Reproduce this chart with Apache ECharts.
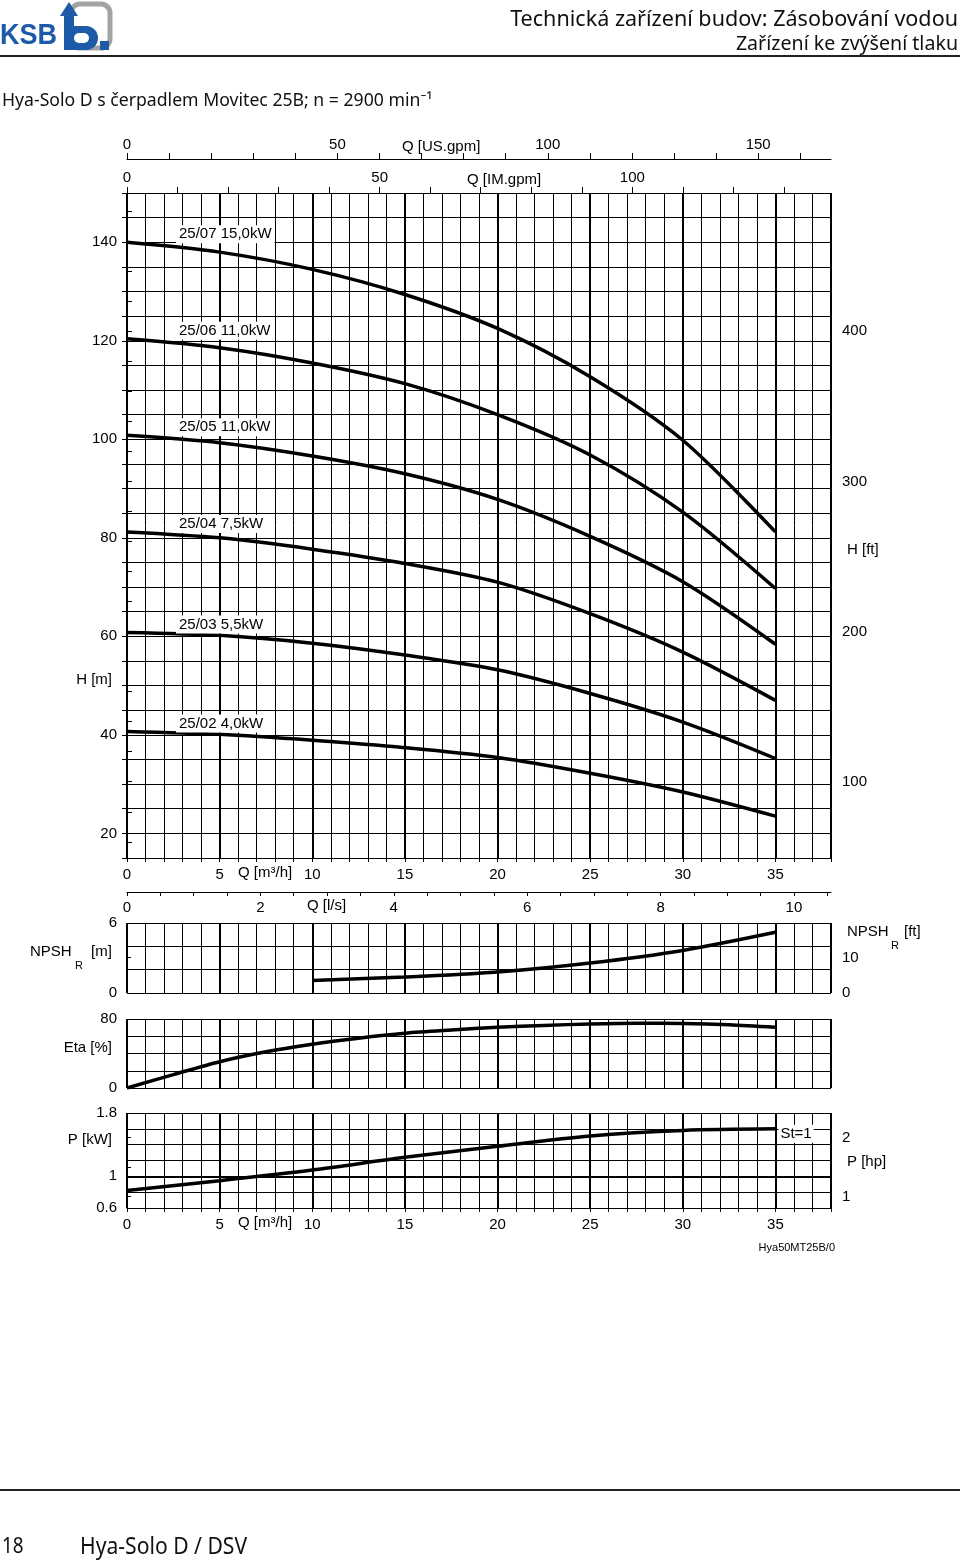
<!DOCTYPE html>
<html>
<head>
<meta charset="utf-8">
<title>Hya-Solo D s čerpadlem Movitec 25B</title>
<script src="https://cdn.jsdelivr.net/npm/echarts@6/dist/echarts.min.js"></script>
<style>
  html, body { margin: 0; padding: 0; background: #fff; }
  #chart { width: 960px; height: 1560px; }
</style>
</head>
<body>
<div id="chart"></div>
<script>
// Flow Q in m³/h, head H in m
const qH = [0, 5, 10, 15, 20, 25, 30, 35];
const pumpNames = ['25/07 15,0kW', '25/06 11,0kW', '25/05 11,0kW', '25/04 7,5kW', '25/03 5,5kW', '25/02 4,0kW'];
const h2507 = [140.0, 138.0, 134.5, 129.4, 122.5, 112.7, 99.8, 81.2];
const h2506 = [120.4, 118.6, 115.5, 111.3, 105.0, 96.8, 85.2, 69.7];
const h2505 = [100.8, 99.3, 96.6, 93.0, 87.8, 80.3, 71.1, 58.4];
const h2504 = [81.2, 80.0, 77.7, 74.8, 71.0, 64.6, 56.8, 47.0];
const h2503 = [60.8, 60.2, 58.6, 56.2, 53.2, 48.4, 42.6, 35.2];
const h2502 = [40.7, 40.1, 38.9, 37.4, 35.4, 32.2, 28.4, 23.5];
const heads = [h2507, h2506, h2505, h2504, h2503, h2502];

const qNpsh = [10, 15, 20, 25, 30, 35];
const npsh = [1.08, 1.37, 1.8, 2.57, 3.65, 5.2];

const qEta = [0, 2.5, 5, 7.5, 10, 12.5, 15, 17.5, 20, 22.5, 25, 27.5, 30, 32.5, 35];
const eta = [0, 15.5, 30.5, 42, 50.8, 57.8, 63.5, 67.2, 70.4, 72.6, 74.2, 75.0, 74.8, 73.4, 70.4];

const qPow = [0, 5, 10, 15, 20, 25, 30, 35];
const power = [0.82, 0.945, 1.08, 1.24, 1.38, 1.51, 1.58, 1.60];

// tick labels
const qLabels = [0, 5, 10, 15, 20, 25, 30, 35];
const usGpmTicks = [0, 10, 20, 30, 40, 50, 60, 70, 80, 90, 100, 110, 120, 130, 140, 150, 160];
const usGpmLabels = [0, 50, 100, 150];
const imGpmTicks = [0, 10, 20, 30, 40, 50, 60, 70, 80, 90, 100, 110, 120, 130];
const imGpmLabels = [0, 50, 100];
const lsTicks = [0, 0.5, 1, 1.5, 2, 2.5, 3, 3.5, 4, 4.5, 5, 5.5, 6, 6.5, 7, 7.5, 8, 8.5, 9, 9.5, 10, 10.5];
const lsLabels = [0, 2, 4, 6, 8, 10];
const hLabels = [20, 40, 60, 80, 100, 120, 140];
const ftTicks = [60, 80, 100, 120, 140, 160, 180, 200, 220, 240, 260, 280, 300, 320, 340, 360, 380, 400, 420, 440, 460, 480];
const ftLabels = [100, 200, 300, 400];
const npshLabels = [0, 6];
const npshFtLabels = [0, 10];
const etaLabels = [0, 80];
const kwLabels = [0.6, 1, 1.8];
const hpTicks = [1, 1.5, 2];
const hpLabels = [1, 2];

// unit conversions
const M3H_PER_USGPM = 0.227125;
const M3H_PER_IMGPM = 0.272765;
const M3H_PER_LS = 3.6;
const M_PER_FT = 0.3048;
const KW_PER_HP = 0.7457;

const Q_MAX = 38;
const H_MIN = 15, H_MAX = 150;
const INK = '#000';
const FONT = '"Liberation Sans", Arial, sans-serif';
const HEAD_FONT = '"Noto Sans", sans-serif';
const lbl = { color: INK, fontFamily: FONT, fontSize: 15 };

const zip = (xs, ys) => xs.map((x, i) => [x, ys[i]]);

// vertical grid lines per panel: thin every 1 m³/h, thick every 5
function qAxis(gridIndex, interval, width, more) {
    return Object.assign({
        type: 'value', gridIndex: gridIndex, min: 0, max: Q_MAX, interval: interval,
        axisLine: { show: false }, axisTick: { show: false }, axisLabel: { show: false },
        splitLine: { show: true, lineStyle: { color: INK, width: width } }
    }, more || {});
}

const qLabelled = {
    position: 'bottom',
    axisLine: { show: true, onZero: false, lineStyle: { color: INK, width: 1 } },
    axisTick: { show: true, length: 4, lineStyle: { color: INK } },
    axisLabel: { show: true, margin: 9, customValues: qLabels, ...lbl }
};

const xAxes = [
    qAxis(0, 1, 1, qLabelled),                      // 0 main, m³/h
    qAxis(0, 5, 2),                                 // 1 main thick
    {                                               // 2 IM gpm
        type: 'value', gridIndex: 0, position: 'top', min: 0, max: Q_MAX / M3H_PER_IMGPM,
        axisLine: { show: true, lineStyle: { color: INK, width: 1 } },
        axisTick: { show: true, length: 6, customValues: imGpmTicks, lineStyle: { color: INK } },
        axisLabel: { margin: 8, customValues: imGpmLabels, ...lbl },
        splitLine: { show: false }
    },
    {                                               // 3 US gpm
        type: 'value', gridIndex: 0, position: 'top', offset: 34, min: 0, max: Q_MAX / M3H_PER_USGPM,
        axisLine: { show: true, lineStyle: { color: INK, width: 1 } },
        axisTick: { show: true, length: 6, customValues: usGpmTicks, lineStyle: { color: INK } },
        axisLabel: { margin: 7, customValues: usGpmLabels, ...lbl },
        splitLine: { show: false }
    },
    qAxis(1, 1, 1),                                 // 4 NPSH
    qAxis(1, 5, 2),                                 // 5
    {                                               // 6 l/s
        type: 'value', gridIndex: 1, position: 'top', offset: 31, min: 0, max: Q_MAX / M3H_PER_LS,
        axisLine: { show: true, lineStyle: { color: INK, width: 1 } },
        axisTick: { show: true, inside: true, length: 4, customValues: lsTicks, lineStyle: { color: INK } },
        axisLabel: { inside: true, margin: 8, customValues: lsLabels, ...lbl },
        splitLine: { show: false }
    },
    qAxis(2, 1, 1),                                 // 7 Eta
    qAxis(2, 5, 2),                                 // 8
    qAxis(3, 1, 1, qLabelled),                      // 9 P
    qAxis(3, 5, 2)                                  // 10
];

const leftLabel = { margin: 10, padding: [0, 0, 6, 0], ...lbl };
const rightLabel = { margin: 11, padding: [0, 0, 6, 0], ...lbl };
const gridLine = { show: true, lineStyle: { color: INK, width: 1 } };

const yAxes = [
    {   // 0 H [m]
        type: 'value', gridIndex: 0, position: 'left', min: H_MIN, max: H_MAX, interval: 5,
        axisLine: { show: false },
        axisTick: { show: true, length: 5, lineStyle: { color: INK } },
        axisLabel: { customValues: hLabels, ...leftLabel },
        splitLine: gridLine
    },
    {   // 1 H [ft]
        type: 'value', gridIndex: 0, position: 'right', min: H_MIN / M_PER_FT, max: H_MAX / M_PER_FT,
        axisLine: { show: false },
        axisTick: { show: true, length: 5, customValues: ftTicks, lineStyle: { color: INK } },
        axisLabel: { customValues: ftLabels, ...rightLabel },
        splitLine: { show: false }
    },
    {   // 2 NPSH [m]
        type: 'value', gridIndex: 1, position: 'left', min: 0, max: 6, interval: 2,
        axisLine: { show: false }, axisTick: { show: false },
        axisLabel: { customValues: npshLabels, ...leftLabel },
        splitLine: gridLine
    },
    {   // 3 NPSH [ft]
        type: 'value', gridIndex: 1, position: 'right', min: 0, max: 6 / M_PER_FT,
        axisLine: { show: false },
        axisTick: { show: true, length: 4, customValues: npshFtLabels, lineStyle: { color: INK } },
        axisLabel: { customValues: npshFtLabels, ...rightLabel },
        splitLine: { show: false }
    },
    {   // 4 Eta [%]
        type: 'value', gridIndex: 2, position: 'left', min: 0, max: 80, interval: 20,
        axisLine: { show: false }, axisTick: { show: false },
        axisLabel: { customValues: etaLabels, ...leftLabel },
        splitLine: gridLine
    },
    {   // 5 P [kW]
        type: 'value', gridIndex: 3, position: 'left', min: 0.6, max: 1.8, interval: 0.2,
        axisLine: { show: false }, axisTick: { show: false },
        axisLabel: { customValues: kwLabels, ...leftLabel },
        splitLine: gridLine
    },
    {   // 6 P [hp]
        type: 'value', gridIndex: 3, position: 'right', min: 0.6 / KW_PER_HP, max: 1.8 / KW_PER_HP,
        axisLine: { show: false },
        axisTick: { show: true, length: 4, customValues: hpTicks, lineStyle: { color: INK } },
        axisLabel: { customValues: hpLabels, ...rightLabel },
        splitLine: { show: false }
    }
];

const curve = { type: 'line', smooth: 0.3, showSymbol: false, silent: true,
    lineStyle: { color: INK, width: 3.5 } };

const series = pumpNames.map((name, i) => ({
    ...curve, name: name, xAxisIndex: 0, yAxisIndex: 0,
    data: zip(qH, heads[i]),
    markPoint: {
        symbol: 'circle', symbolSize: 0, silent: true,
        data: [{
            coord: [qH[0], heads[i][0]],
            label: { show: true, formatter: name, position: [49, -8], align: 'left', verticalAlign: 'middle',
                backgroundColor: '#fff', padding: [2, 3, 1, 3], ...lbl }
        }]
    }
}));

series.push({ ...curve, name: 'NPSH', xAxisIndex: 4, yAxisIndex: 2, data: zip(qNpsh, npsh) });
series.push({ ...curve, name: 'Eta', xAxisIndex: 7, yAxisIndex: 4, data: zip(qEta, eta) });
series.push({
    ...curve, name: 'P', xAxisIndex: 9, yAxisIndex: 5, data: zip(qPow, power),
    endLabel: { show: true, formatter: 'St=1', distance: 3, offset: [0, 5],
        backgroundColor: '#fff', padding: [2, 2, 1, 2], ...lbl },
    markLine: { silent: true, symbol: 'none', label: { show: false },
        lineStyle: { color: INK, width: 2, type: 'solid' }, data: [{ yAxis: 1 }] }
});

// page furniture: texts
function txt(x, y, text, size, align, more) {
    return Object.assign({
        type: 'text', x: x, y: y, silent: true,
        style: { x: 0, y: 0, text: text, fill: INK, font: size + 'px ' + FONT,
            textAlign: align || 'left', textVerticalAlign: 'middle' }
    }, more || {});
}
function head(x, y, text, size, align, scaleX) {
    const t = txt(x, y, text, size, align, { scaleX: scaleX });
    t.style.font = size + 'px ' + HEAD_FONT;
    t.style.fill = '#111';
    return t;
}

const KSB_BLUE = '#1d5aa7';
const graphics = [
    // logo
    { type: 'text', x: 0, y: 51, silent: true, scaleY: 1.1,
      style: { text: 'KSB', fill: KSB_BLUE, font: 'bold 27px ' + FONT, textAlign: 'left', textVerticalAlign: 'bottom' } },
    { type: 'rect', silent: true, shape: { x: 71, y: 4, width: 39, height: 44, r: 9 },
      style: { fill: 'none', stroke: '#a3a3a3', lineWidth: 5 } },
    { type: 'rect', silent: true, shape: { x: 64, y: 14, width: 10, height: 36 }, style: { fill: KSB_BLUE } },
    { type: 'polygon', silent: true, shape: { points: [[60, 16], [69, 2], [78, 16]] }, style: { fill: KSB_BLUE } },
    { type: 'rect', silent: true, shape: { x: 64, y: 26, width: 34, height: 24, r: [0, 12, 12, 0] }, style: { fill: KSB_BLUE } },
    { type: 'rect', silent: true, shape: { x: 74, y: 33, width: 15, height: 10, r: 5 }, style: { fill: '#fff' } },
    { type: 'rect', silent: true, shape: { x: 100, y: 41, width: 9, height: 9 }, style: { fill: KSB_BLUE } },

    head(958, 20, 'Technická zařízení budov: Zásobování vodou', 22, 'right', 0.98),
    head(958, 44, 'Zařízení ke zvýšení tlaku', 20, 'right', 0.98),
    { type: 'line', silent: true, shape: { x1: 0, y1: 56, x2: 960, y2: 56 }, style: { stroke: '#222', lineWidth: 2 } },
    head(2, 101, 'Hya-Solo D s čerpadlem Movitec 25B; n = 2900 min⁻¹', 18, 'left', 0.98),

    // axis titles
    txt(402, 147, 'Q [US.gpm]', 15),
    txt(467, 180, 'Q [IM.gpm]', 15),
    txt(112, 680, 'H [m]', 15, 'right'),
    txt(847, 550, 'H [ft]', 15),
    txt(238, 873, 'Q [m³/h]', 15),
    txt(307, 906, 'Q [l/s]', 15),
    txt(30, 952, 'NPSH', 15),
    txt(75, 966, 'R', 11),
    txt(91, 952, '[m]', 15),
    txt(847, 932, 'NPSH', 15),
    txt(891, 946, 'R', 11),
    txt(904, 932, '[ft]', 15),
    txt(112, 1048, 'Eta [%]', 15, 'right'),
    txt(112, 1140, 'P [kW]', 15, 'right'),
    txt(847, 1162, 'P [hp]', 15),
    txt(238, 1223, 'Q [m³/h]', 15),
    txt(835, 1248, 'Hya50MT25B/0', 11, 'right'),

    // footer
    { type: 'line', silent: true, shape: { x1: 0, y1: 1490, x2: 960, y2: 1490 }, style: { stroke: '#222', lineWidth: 2 } },
    head(2, 1547, '18', 21, 'left', 0.9),
    head(80, 1547, 'Hya-Solo D / DSV', 24, 'left', 0.88)
];

const chart = echarts.init(document.getElementById('chart'), null, { renderer: 'canvas' });
chart.setOption({
    animation: false,
    backgroundColor: '#fff',
    grid: [
        { left: 127, width: 704, top: 193, height: 665 },
        { left: 127, width: 704, top: 923, height: 70 },
        { left: 127, width: 704, top: 1019, height: 69 },
        { left: 127, width: 704, top: 1113, height: 95 }
    ],
    xAxis: xAxes,
    yAxis: yAxes,
    series: series,
    graphic: graphics
});
</script>
</body>
</html>
